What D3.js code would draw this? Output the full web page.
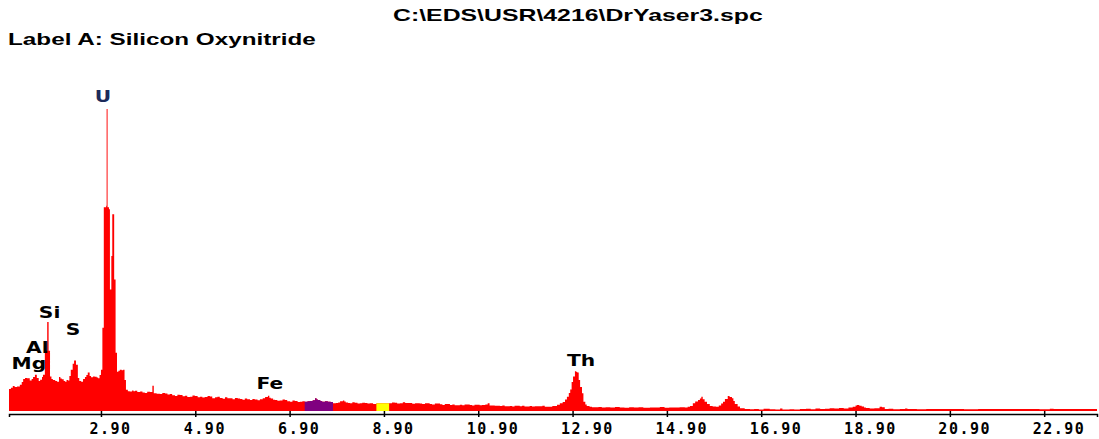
<!DOCTYPE html>
<html>
<head>
<meta charset="utf-8">
<title>EDS spectrum</title>
<script src="https://d3js.org/d3.v7.min.js"></script>
<style>
  body { margin: 0; background: #fff; }
  svg { display: block; }
  .head { font-family: "Liberation Sans Narrow", "Liberation Sans", Arial, sans-serif; font-weight: bold; font-size: 16px; fill: #000; }
  .elem { font-family: "DejaVu Sans", sans-serif; font-weight: bold; font-size: 15px; fill: #000; }
  .axis text { font-family: "DejaVu Sans Mono", monospace; font-weight: bold; font-size: 15px; fill: #000; letter-spacing: 1.5px; }
  .axis path, .axis line { stroke: #000; stroke-width: 1.5px; }
</style>
</head>
<body>
<div id="chart"></div>
<script>
// spectrum channels (keV) and counts
const spectrumKeV = [
  0.95, 0.99, 1.03, 1.07, 1.12, 1.18, 1.22, 1.25, 1.29, 1.33, 1.39, 1.43, 1.46, 1.50, 1.54, 1.58,
  1.61, 1.65, 1.67, 1.71, 1.76, 1.79, 1.82, 1.85, 1.88, 1.93, 1.97, 2.01, 2.04, 2.07, 2.11, 2.14,
  2.17, 2.20, 2.23, 2.26, 2.30, 2.33, 2.37, 2.41, 2.44, 2.48, 2.52, 2.56, 2.59, 2.62, 2.66, 2.69,
  2.73, 2.77, 2.81, 2.84, 2.87, 2.90, 2.93, 2.96, 3.01, 3.02, 3.04, 3.07, 3.09, 3.12, 3.14, 3.18,
  3.21, 3.24, 3.27, 3.30, 3.34, 3.37, 3.40, 3.43, 3.47, 3.51, 3.56, 3.59, 3.62, 3.67, 3.73, 3.78,
  3.83, 3.88, 3.94, 3.99, 4.02, 4.08, 4.15, 4.20, 4.26, 4.31, 4.36, 4.41, 4.47, 4.52, 4.57, 4.63,
  4.68, 4.73, 4.79, 4.84, 4.89, 4.95, 5.00, 5.05, 5.10, 5.16, 5.21, 5.26, 5.32, 5.37, 5.42, 5.48,
  5.53, 5.58, 5.63, 5.69, 5.74, 5.80, 5.85, 5.90, 5.95, 6.00, 6.06, 6.11, 6.16, 6.22, 6.27, 6.33,
  6.38, 6.44, 6.47, 6.50, 6.55, 6.59, 6.64, 6.69, 6.75, 6.80, 6.85, 6.91, 6.96, 7.01, 7.07, 7.12,
  7.17, 7.22, 7.28, 7.33, 7.39, 7.44, 7.47, 7.50, 7.55, 7.59, 7.65, 7.71, 7.77, 7.82, 7.88, 7.93,
  7.97, 8.03, 8.06, 8.09, 8.14, 8.18, 8.23, 8.28, 8.34, 8.39, 8.44, 8.50, 8.55, 8.60, 8.67, 8.74,
  8.88, 9.01, 9.07, 9.13, 9.18, 9.24, 9.30, 9.35, 9.45, 9.50, 9.56, 9.66, 9.71, 9.77, 9.87, 9.92,
  9.98, 10.09, 10.14, 10.19, 10.30, 10.35, 10.40, 10.51, 10.56, 10.61, 10.72, 10.77, 10.82, 10.93, 10.98, 11.05,
  11.10, 11.14, 11.19, 11.25, 11.36, 11.41, 11.46, 11.57, 11.62, 11.67, 11.78, 11.83, 11.88, 11.99, 12.04, 12.10,
  12.21, 12.26, 12.31, 12.42, 12.47, 12.52, 12.57, 12.63, 12.69, 12.74, 12.78, 12.82, 12.85, 12.88, 12.91, 12.95,
  12.98, 13.00, 13.03, 13.06, 13.10, 13.13, 13.17, 13.20, 13.26, 13.31, 13.37, 13.45, 13.52, 13.60, 13.70, 13.80,
  13.90, 14.00, 14.10, 14.20, 14.30, 14.40, 14.54, 14.65, 14.75, 14.85, 14.95, 15.05, 15.17, 15.28, 15.34, 15.39,
  15.45, 15.50, 15.56, 15.60, 15.63, 15.66, 15.70, 15.75, 15.81, 15.87, 15.94, 16.00, 16.05, 16.09, 16.13, 16.19,
  16.23, 16.28, 16.31, 16.34, 16.40, 16.45, 16.55, 16.66, 16.75, 16.85, 16.95, 17.08, 17.20, 17.30, 17.35, 17.50,
  17.60, 17.72, 17.85, 17.95, 18.05, 18.15, 18.25, 18.35, 18.45, 18.55, 18.65, 18.75, 18.84, 18.90, 18.93, 18.98,
  19.03, 19.08, 19.12, 19.20, 19.30, 19.41, 19.46, 19.52, 19.60, 19.70, 19.84, 19.95, 20.00, 20.20, 20.40, 20.60,
  20.90, 21.20, 21.50, 21.96, 22.30, 22.80, 23.02, 23.10, 23.50, 24.02
];
const spectrumCounts = [
  220, 232, 250, 240, 245, 262, 290, 318, 330, 326, 303, 320, 338, 362, 328, 300,
  312, 340, 362, 600, 888, 600, 345, 320, 308, 300, 292, 338, 325, 316, 300, 292,
  310, 304, 350, 410, 470, 503, 460, 330, 300, 292, 320, 338, 360, 384, 350, 336,
  345, 342, 335, 326, 360, 410, 830, 2030, 2045, 3010, 2030, 2010, 1210, 1545, 1960, 1310,
  580, 392, 400, 412, 405, 410, 310, 212, 198, 194, 205, 196, 203, 190, 194, 185,
  180, 192, 190, 252, 178, 172, 170, 180, 175, 165, 170, 158, 150, 162, 160, 148,
  152, 140, 143, 155, 150, 138, 143, 135, 140, 150, 145, 128, 137, 142, 130, 122,
  137, 126, 127, 118, 130, 125, 120, 112, 125, 118, 110, 120, 115, 108, 117, 128,
  140, 152, 132, 125, 112, 110, 102, 105, 115, 110, 98, 93, 104, 100, 90, 93,
  98, 93, 96, 100, 108, 128, 115, 110, 100, 93, 96, 93, 90, 77, 80, 85,
  98, 104, 95, 85, 80, 77, 88, 83, 76, 77, 82, 80, 75, 77, 70, 77,
  77, 77, 84, 83, 76, 77, 86, 80, 80, 72, 78, 75, 70, 78, 70, 66,
  74, 67, 60, 70, 60, 66, 58, 63, 57, 64, 60, 55, 62, 57, 60, 65,
  77, 55, 55, 52, 50, 56, 48, 50, 45, 52, 47, 53, 45, 50, 44, 48,
  47, 52, 42, 43, 50, 50, 62, 77, 90, 115, 143, 180, 215, 290, 345, 395,
  388, 383, 310, 240, 177, 93, 65, 50, 42, 38, 37, 40, 35, 38, 34, 40,
  36, 33, 38, 35, 37, 32, 36, 34, 40, 33, 36, 35, 38, 36, 42, 50,
  77, 95, 110, 125, 143, 118, 93, 70, 50, 45, 43, 55, 75, 93, 120, 150,
  140, 127, 100, 70, 45, 27, 20, 17, 20, 15, 22, 17, 15, 25, 16, 18,
  14, 20, 22, 18, 24, 20, 22, 27, 24, 30, 25, 35, 43, 55, 60, 52,
  45, 35, 30, 25, 28, 43, 38, 20, 22, 18, 20, 24, 20, 18, 20, 19,
  20, 18, 20, 19, 20, 18, 22, 20, 19, 19
];

// highlighted regions of interest
const roiStart = [7.22, 8.74];
const roiEnd = [7.82, 9.01];
const roiColor = ["#800080", "#ffff00"];

// peak labels
const peakNames = ["U", "Si", "S", "Al", "Mg", "Fe", "Th"];
const peakKeV = [2.94, 1.81, 2.31, 1.55, 1.37, 6.48, 13.08];
const peakLabelCounts = [3083, 927, 760, 583, 415, 217, 453];

const tickValues = [2.9, 4.9, 6.9, 8.9, 10.9, 12.9, 14.9, 16.9, 18.9, 20.9, 22.9];

const width = 1099, height = 439;
const svg = d3.select("#chart").append("svg")
  .attr("width", width)
  .attr("height", height);

const x = d3.scaleLinear().domain([0.95, 24.02]).range([9, 1097]);
const y = d3.scaleLinear().domain([0, 3000]).range([411, 110]);

const data = spectrumKeV.map((e, i) => ({ e: e, c: spectrumCounts[i] }));

const area = d3.area()
  .curve(d3.curveStepAfter)
  .x(d => x(d.e))
  .y0(y(0))
  .y1(d => y(d.c));

svg.append("path")
  .datum(data)
  .attr("fill", "#ff0000")
  .attr("d", area);

// ROI overlays, same spectrum clipped to each window
roiStart.forEach((s, i) => {
  const id = "roi" + i;
  svg.append("clipPath").attr("id", id)
    .append("rect")
    .attr("x", x(s))
    .attr("y", 0)
    .attr("width", x(roiEnd[i]) - x(s))
    .attr("height", height);
  svg.append("path")
    .datum(data)
    .attr("fill", roiColor[i])
    .attr("clip-path", "url(#" + id + ")")
    .attr("d", area);
});

// axis
const axis = svg.append("g")
  .attr("class", "axis")
  .attr("transform", "translate(0,414)")
  .call(d3.axisBottom(x).tickValues(tickValues).tickFormat(d3.format(".2f")).tickSizeOuter(0).tickSize(3));
axis.selectAll(".tick line").attr("y1", -3).attr("y2", 3);
axis.selectAll(".tick text")
  .attr("text-anchor", "start")
  .attr("x", -12)
  .attr("y", 20)
  .attr("dy", 0);

// peak labels (the original bitmap font is wide, so stretch horizontally)
svg.selectAll(".elem")
  .data(peakNames)
  .enter().append("text")
  .attr("class", "elem")
  .attr("text-anchor", "middle")
  .attr("transform", (d, i) => `translate(${x(peakKeV[i])},${y(peakLabelCounts[i])}) scale(1.35,1)`)
  .style("fill", d => d === "U" ? "#1c2a5a" : "#000")
  .text(d => d);

// header texts, fitted to their width in the picture
function header(txt, left, base, w) {
  const t = svg.append("text").attr("class", "head").text(txt);
  const len = t.node().getComputedTextLength();
  t.attr("transform", `translate(${left},${base}) scale(${w / len},1)`);
}
header("C:\\EDS\\USR\\4216\\DrYaser3.spc", 393, 21, 370);
header("Label A: Silicon Oxynitride", 8, 45, 308);
</script>
</body>
</html>
